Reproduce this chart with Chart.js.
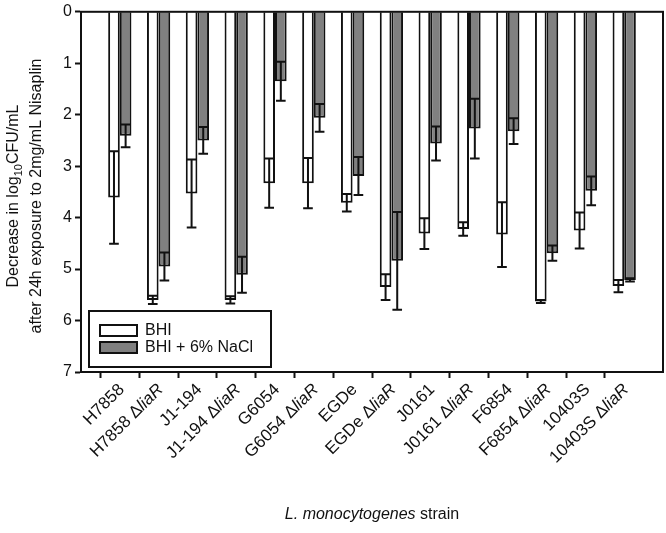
<!DOCTYPE html>
<html>
<head>
<meta charset="utf-8">
<script src="https://cdn.jsdelivr.net/npm/chart.js@4.4.0/dist/chart.umd.min.js"></script>
<style>
  html, body { margin: 0; padding: 0; background: #fff; }
</style>
</head>
<body>
<canvas id="chart" width="666" height="533"></canvas>
<script>
// data (decrease in log10 CFU/mL, mean and SD)
const strains = ["H7858", "H7858 ΔliaR", "J1-194", "J1-194 ΔliaR", "G6054", "G6054 ΔliaR", "EGDe",
                 "EGDe ΔliaR", "J0161", "J0161 ΔliaR", "F6854", "F6854 ΔliaR", "10403S", "10403S ΔliaR"];
const bhiMean  = [3.61, 5.60, 3.53, 5.60, 3.33, 3.33, 3.71, 5.35, 4.31, 4.22, 4.33, 5.63, 4.25, 5.33];
const bhiSd    = [0.90, 0.08, 0.66, 0.07, 0.48, 0.49, 0.17, 0.25, 0.30, 0.13, 0.63, 0.03, 0.35, 0.12];
const naclMean = [2.41, 4.95, 2.50, 5.11, 1.35, 2.06, 3.19, 4.84, 2.56, 2.27, 2.32, 4.69, 3.48, 5.21];
const naclSd   = [0.22, 0.27, 0.26, 0.35, 0.38, 0.27, 0.37, 0.95, 0.33, 0.58, 0.25, 0.15, 0.28, 0.03];
const yMin = 0, yMax = 7;

const FONT = "'Liberation Sans', Arial, sans-serif";
const INK = "#111";

// error bars both ways, caps as wide as the bar
const errorBars = {
  id: "errorBars",
  afterDatasetsDraw(chart) {
    const ctx = chart.ctx, y = chart.scales.y;
    [bhiSd, naclSd].forEach((sd, d) => {
      const meta = chart.getDatasetMeta(d);
      meta.data.forEach((bar, i) => {
        const m = chart.data.datasets[d].data[i].y;
        const top = y.getPixelForValue(m - sd[i]);
        const bot = y.getPixelForValue(m + sd[i]);
        const half = bar.width / 2 - 1;
        ctx.save();
        ctx.strokeStyle = INK;
        ctx.lineWidth = 2;
        ctx.beginPath();
        ctx.moveTo(bar.x, top); ctx.lineTo(bar.x, bot);
        ctx.moveTo(bar.x - half, top); ctx.lineTo(bar.x + half, top);
        ctx.moveTo(bar.x - half, bot); ctx.lineTo(bar.x + half, bot);
        ctx.stroke();
        ctx.restore();
      });
    });
  }
};

// frame, tick labels with italics, axis titles, boxed legend
const decorations = {
  id: "decorations",
  afterDraw(chart) {
    const ctx = chart.ctx, a = chart.chartArea, x = chart.scales.x;
    ctx.save();
    ctx.strokeStyle = INK;
    ctx.lineWidth = 2;
    ctx.strokeRect(a.left, a.top, a.right - a.left, a.bottom - a.top);

    // rotated strain labels
    const nFont = "17px " + FONT, iFont = "italic 17px " + FONT;
    ctx.fillStyle = INK;
    ctx.textBaseline = "middle";
    ctx.textAlign = "left";
    strains.forEach((s, i) => {
      const px = x.getPixelForValue(i);
      const k = s.indexOf("Δ");
      const head = k < 0 ? s : s.slice(0, k + 1);
      const tail = k < 0 ? "" : s.slice(k + 1);
      ctx.font = nFont; const wh = ctx.measureText(head).width;
      ctx.font = iFont; const wt = tail ? ctx.measureText(tail).width : 0;
      ctx.save();
      ctx.translate(px + 2, a.bottom + 15);
      ctx.rotate(-Math.PI / 4);
      ctx.font = nFont; ctx.fillText(head, -(wh + wt), 0);
      if (tail) { ctx.font = iFont; ctx.fillText(tail, -wt, 0); }
      ctx.restore();
    });

    // x title
    ctx.font = "italic 16px " + FONT;
    const t1 = "L. monocytogenes", t2 = " strain";
    const w1 = ctx.measureText(t1).width;
    ctx.font = "16px " + FONT;
    const w2 = ctx.measureText(t2).width;
    const cx = (a.left + a.right) / 2;
    ctx.font = "italic 16px " + FONT;
    ctx.fillText(t1, cx - (w1 + w2) / 2, 515);
    ctx.font = "16px " + FONT;
    ctx.fillText(t2, cx - (w1 + w2) / 2 + w1, 515);

    // y title, two lines, subscript 10
    const cy = 196;
    ctx.save();
    ctx.translate(14, cy);
    ctx.rotate(-Math.PI / 2);
    const p1 = "Decrease in log", p2 = "10", p3 = "CFU/mL";
    ctx.font = "16px " + FONT; const q1 = ctx.measureText(p1).width, q3 = ctx.measureText(p3).width;
    ctx.font = "11px " + FONT; const q2 = ctx.measureText(p2).width;
    let sx = -(q1 + q2 + q3) / 2;
    ctx.font = "16px " + FONT; ctx.fillText(p1, sx, 0); sx += q1;
    ctx.font = "11px " + FONT; ctx.fillText(p2, sx, 5); sx += q2;
    ctx.font = "16px " + FONT; ctx.fillText(p3, sx, 0);
    ctx.textAlign = "center";
    ctx.fillText("after 24h exposure to 2mg/mL Nisaplin", 0, 23);
    ctx.restore();

    // legend
    ctx.lineWidth = 2;
    ctx.strokeRect(89, 311, 182, 56);
    chart.data.datasets.forEach((ds, d) => {
      const ty = 325 + d * 17;
      ctx.fillStyle = ds.backgroundColor;
      ctx.fillRect(100, ty, 37, 11);
      ctx.strokeRect(100, ty, 37, 11);
      ctx.fillStyle = INK;
      ctx.font = "16px " + FONT;
      ctx.textAlign = "left";
      ctx.fillText(ds.label, 145, ty + 6);
    });
    ctx.restore();
  }
};

new Chart(document.getElementById("chart"), {
  type: "bar",
  data: {
    datasets: [
      {
        label: "BHI",
        data: strains.map((s, i) => ({ x: i, y: bhiMean[i] })),
        backgroundColor: "#ffffff",
        borderColor: INK,
        borderWidth: 2,
        borderSkipped: "start",
        categoryPercentage: 0.6,
        barPercentage: 1
      },
      {
        label: "BHI + 6% NaCl",
        data: strains.map((s, i) => ({ x: i, y: naclMean[i] })),
        backgroundColor: "#808080",
        borderColor: INK,
        borderWidth: 2,
        borderSkipped: "start",
        categoryPercentage: 0.6,
        barPercentage: 1
      }
    ]
  },
  options: {
    responsive: false,
    animation: false,
    layout: { padding: { top: 0, right: 3, left: 0, bottom: 0 } },
    plugins: { legend: { display: false }, tooltip: { enabled: false } },
    scales: {
      x: {
        type: "linear",
        min: -1,
        max: 14,
        offset: false,
        ticks: { stepSize: 1, display: false },
        grid: {
          drawOnChartArea: false,
          tickLength: 6,
          tickWidth: 2,
          tickColor: c => (c.tick && c.tick.value >= 0 && c.tick.value <= 13) ? INK : "rgba(0,0,0,0)"
        },
        border: { color: INK, width: 2 },
        afterFit: s => { s.height = 161; }
      },
      y: {
        reverse: true,
        min: yMin,
        max: yMax,
        ticks: { stepSize: 1, color: INK, padding: 3, font: { size: 16, family: FONT, lineHeight: 1.1 } },
        grid: { drawOnChartArea: false, tickLength: 6, tickWidth: 2, tickColor: INK },
        border: { color: INK, width: 2 },
        afterFit: s => { s.width = 81; }
      }
    }
  },
  plugins: [errorBars, decorations]
});
</script>
</body>
</html>
